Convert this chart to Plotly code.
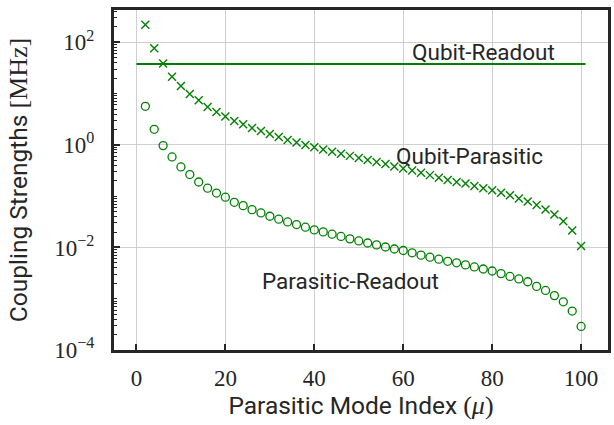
import math
import plotly.graph_objects as go

# Parasitic mode indices
mode_index = list(range(2, 101, 2))

# Qubit-parasitic coupling strengths [MHz]
qubit_parasitic = [
    221, 76.4, 38.5, 21.4, 14.1, 9.82, 7.40, 5.48, 4.38, 3.56,
    2.92, 2.52, 2.14, 1.87, 1.63, 1.43, 1.25, 1.11, 0.995, 0.897,
    0.813, 0.733, 0.668, 0.610, 0.556, 0.507, 0.462, 0.422, 0.380, 0.347,
    0.316, 0.285, 0.257, 0.229, 0.207, 0.189, 0.176, 0.158, 0.143, 0.130,
    0.116, 0.104, 0.0897, 0.0785, 0.0675, 0.0547, 0.0438, 0.0324, 0.0213, 0.0107,
]

# Parasitic-readout coupling strengths [MHz]
parasitic_readout = [
    5.65, 2.01, 0.968, 0.581, 0.371, 0.264, 0.189, 0.143, 0.115, 0.0955,
    0.0759, 0.0653, 0.0546, 0.0471, 0.0406, 0.0355, 0.0314, 0.0279, 0.0248, 0.0220,
    0.0201, 0.0181, 0.0164, 0.0147, 0.0134, 0.0122, 0.0112, 0.0102, 0.00933, 0.00871,
    0.00785, 0.00708, 0.00646, 0.00589, 0.00537, 0.00501, 0.00457, 0.00417, 0.00380, 0.00347,
    0.00309, 0.00272, 0.00243, 0.00214, 0.00174, 0.00145, 0.00115, 0.000871, 0.000575, 0.000288,
]

# Qubit-readout coupling (constant) [MHz]
qubit_readout_x = [0, 101]
qubit_readout = [37.8, 37.8]

x_ticks = [0, 20, 40, 60, 80, 100]
y_ticks = [1e-4, 1e-2, 1e0, 1e2]
y_tick_text = ["10<sup>−4</sup>", "10<sup>−2</sup>", "10<sup>0</sup>", "10<sup>2</sup>"]

GREEN = "#008000"
INK = "#262626"
SERIF = "Liberation Serif"
SANS = "Roboto"

fig = go.Figure()

fig.add_trace(go.Scatter(
    x=qubit_readout_x, y=qubit_readout, mode="lines",
    line=dict(color=GREEN, width=2), showlegend=False,
))
fig.add_trace(go.Scatter(
    x=mode_index, y=qubit_parasitic, mode="markers",
    marker=dict(symbol="x-thin", size=8, line=dict(color=GREEN, width=1.4), color=GREEN),
    showlegend=False,
))
fig.add_trace(go.Scatter(
    x=mode_index, y=parasitic_readout, mode="markers",
    marker=dict(symbol="circle-open", size=8, line=dict(color=GREEN, width=1.3), color=GREEN),
    showlegend=False,
))

labels = [
    ("Qubit-Readout", 78.0, 64.0),
    ("Qubit-Parasitic", 74.8, 0.62),
    ("Parasitic-Readout", 48.1, 0.0022),
]
for text, lx, ly in labels:
    fig.add_annotation(
        x=lx, y=math.log10(ly), text=text, showarrow=False,
        font=dict(family=SANS, size=22.5, color=INK),
        xanchor="center", yanchor="middle",
    )

minor_vals = [k * 10.0 ** e for e in range(-4, 3) for k in range(1, 10)]

serif_span = "<span style=\"font-family:'Liberation Serif';font-size:26px\">{}</span>"

fig.update_layout(
    width=614, height=425,
    margin=dict(l=114, r=3, t=10, b=75),
    plot_bgcolor="white", paper_bgcolor="white",
    xaxis=dict(
        range=[-5.05, 106.05],
        tickmode="array", tickvals=x_ticks,
        ticks="inside", ticklen=6, tickwidth=2, tickcolor=INK,
        showline=True, mirror=True, linewidth=3, linecolor=INK,
        showgrid=True, gridcolor="#cfcfcf", gridwidth=1,
        zeroline=False,
        tickfont=dict(family=SERIF, size=23, color=INK),
        ticklabelstandoff=5,
        title=dict(
            text="Parasitic Mode Index " + serif_span.format("(<i>μ</i>)"),
            font=dict(family=SANS, size=24.5, color=INK), standoff=7,
        ),
    ),
    yaxis=dict(
        type="log", range=[-4, 2.63],
        tickmode="array", tickvals=y_ticks, ticktext=y_tick_text,
        ticks="inside", ticklen=6, tickwidth=2, tickcolor=INK,
        minor=dict(tickmode="array", tickvals=minor_vals, ticks="inside",
                   ticklen=3, tickwidth=1, tickcolor=INK, showgrid=False),
        showline=True, mirror=True, linewidth=3, linecolor=INK,
        showgrid=True, gridcolor="#cfcfcf", gridwidth=1,
        zeroline=False,
        tickfont=dict(family=SERIF, size=23, color=INK),
        ticklabelstandoff=12,
        title=dict(
            text="Coupling Strengths " + serif_span.format("[MHz]"),
            font=dict(family=SANS, size=24.5, color=INK), standoff=20,
        ),
    ),
)

fig.write_html("out.html")
